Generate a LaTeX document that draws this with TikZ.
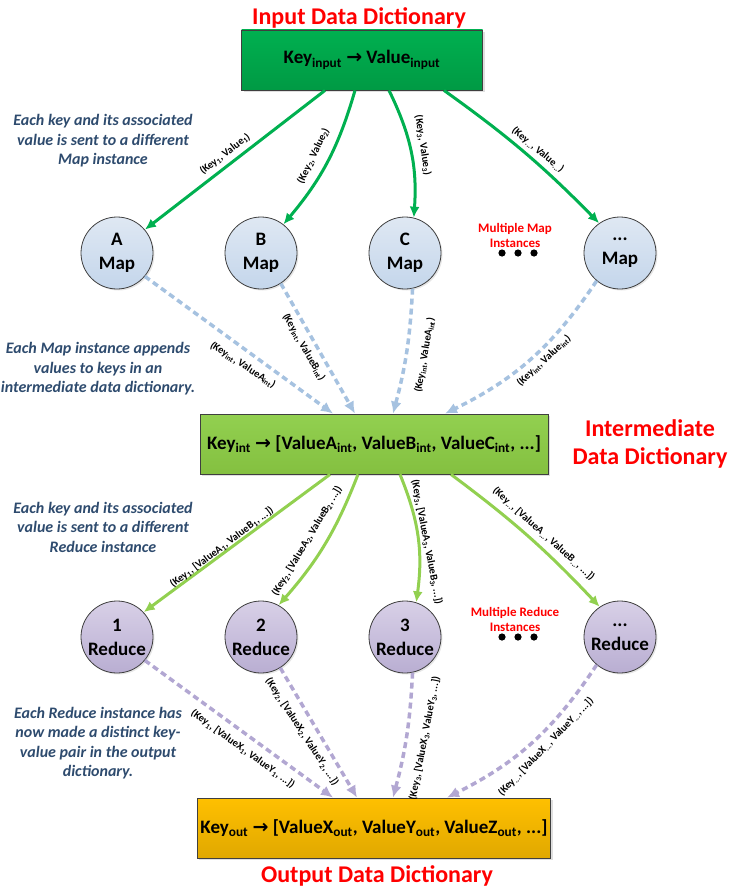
\documentclass[tikz,border=0pt]{standalone}
\usepackage{fontspec}
\setmainfont{Carlito}
\newfontfamily\arrowfont{DejaVu Sans}
\usepackage{tikz}
\usetikzlibrary{arrows.meta}
\usetikzlibrary{shadows}

\definecolor{ingreen}{HTML}{00B050}
\definecolor{ingreendark}{HTML}{009A44}
\definecolor{intgreen}{HTML}{92D050}
\definecolor{intgreendark}{HTML}{84C040}
\definecolor{outgold}{HTML}{FFC000}
\definecolor{outgolddark}{HTML}{E0A800}
\definecolor{mapfill}{HTML}{DFE8F3}
\definecolor{mapfilldark}{HTML}{C4D6EB}
\definecolor{redfill}{HTML}{D8D0E7}
\definecolor{redfilldark}{HTML}{B9AED2}
\definecolor{mapdash}{HTML}{A6C2E0}
\definecolor{reddash}{HTML}{B2A7D2}
\definecolor{notetext}{HTML}{2E4B6E}
\definecolor{edge}{HTML}{3F3F3F}

\newcommand{\ix}[1]{\textsubscript{#1}}
\newcommand{\goes}{{\arrowfont →}}

\tikzset{
    dict/.style={draw=edge, line width=0.8pt, minimum width=348pt, minimum height=60pt,
        font=\fontsize{19}{22}\selectfont\bfseries,
        drop shadow={shadow xshift=2pt, shadow yshift=-2pt, opacity=0.25}},
    inst/.style={circle, draw=edge, line width=0.8pt, minimum size=72pt, inner sep=0pt,
        align=center, font=\fontsize{19}{24}\selectfont\bfseries,
        drop shadow={shadow xshift=1.5pt, shadow yshift=-1.5pt, opacity=0.2}},
    heading/.style={text=red, align=center, font=\fontsize{24}{28}\selectfont\bfseries},
    note/.style={text=notetext, align=center, font=\fontsize{16}{19.5}\selectfont\bfseries\itshape},
    many/.style={text=red, align=center, inner sep=0pt, font=\fontsize{13}{15}\selectfont\bfseries},
    lbl/.style={inner sep=1pt, font=\fontsize{10.5}{12}\selectfont\bfseries},
    tomap/.style={line width=3pt, draw=ingreen, -{Latex[length=11pt,width=10pt]}},
    fromap/.style={line width=3.5pt, draw=mapdash, dash pattern=on 6pt off 4pt, -{Latex[length=12pt,width=11pt]}},
    toreduce/.style={line width=3pt, draw=intgreen, -{Latex[length=11pt,width=10pt]}},
    fromreduce/.style={line width=3.5pt, draw=reddash, dash pattern=on 6pt off 4pt, -{Latex[length=12pt,width=11pt]}}
}

\begin{document}
\begin{tikzpicture}[x=1pt, y=1pt]
    \useasboundingbox (0, 0) rectangle (729, -891);

    \node[heading] (intitle) at (359, -18) {Input Data Dictionary};
    \node[dict, minimum width=241pt, top color=ingreen, bottom color=ingreendark] (input) at (362, -60)
        {Key\ix{input} \goes{} Value\ix{input}};

    \node[inst, top color=mapfill, bottom color=mapfilldark] (mapA) at (117, -253) {A\\Map};
    \node[inst, top color=mapfill, bottom color=mapfilldark] (mapB) at (261, -253) {B\\Map};
    \node[inst, top color=mapfill, bottom color=mapfilldark] (mapC) at (405, -253) {C\\Map};
    \node[inst, top color=mapfill, bottom color=mapfilldark] (mapN) at (620, -253) {...\\Map};
    \node[many] (mapmany) at (515, -235) {Multiple Map\\Instances};
    \foreach \x in {502, 518, 534}
        \fill (\x, -253) circle (3.6);

    \node[dict, top color=intgreen, bottom color=intgreendark] (inter) at (374, -444)
        {Key\ix{int} \goes{} [ValueA\ix{int}, ValueB\ix{int}, ValueC\ix{int}, ...]};
    \node[heading] (inttitle) at (650, -444) {Intermediate\\Data Dictionary};

    \node[inst, top color=redfill, bottom color=redfilldark] (red1) at (117, -637) {1\\Reduce};
    \node[inst, top color=redfill, bottom color=redfilldark] (red2) at (261, -637) {2\\Reduce};
    \node[inst, top color=redfill, bottom color=redfilldark] (red3) at (405, -637) {3\\Reduce};
    \node[inst, top color=redfill, bottom color=redfilldark] (redN) at (620, -637) {...\\Reduce};
    \node[many] (redmany) at (515, -619) {Multiple Reduce\\Instances};
    \foreach \x in {502, 518, 534}
        \fill (\x, -637) circle (3.6);

    \node[dict, top color=outgold, bottom color=outgolddark] (output) at (374, -828)
        {Key\ix{out} \goes{} [ValueX\ix{out}, ValueY\ix{out}, ValueZ\ix{out}, ...]};
    \node[heading] (outtitle) at (377, -876) {Output Data Dictionary};

    \node[note] (notemap) at (103, -141) {Each key and its associated\\value is sent to a different\\Map instance};
    \node[note] (noteint) at (98, -369) {Each Map instance appends\\values to keys in an\\intermediate data dictionary.};
    \node[note] (notered) at (103, -527) {Each key and its associated\\value is sent to a different\\Reduce instance};
    \node[note] (noteout) at (98, -743) {Each Reduce instance has\\now made a distinct key-\\value pair in the output\\dictionary.};

    \draw[tomap] ([xshift=-37pt]input.south) -- node[lbl, xshift=-10pt, yshift=6pt, rotate=37.6] {(Key\ix{1}, Value\ix{1})} (mapA.40);
    \draw[tomap] ([xshift=-7pt]input.south) to[bend left=12] node[lbl, xshift=-14pt, yshift=6pt, rotate=64] {(Key\ix{2}, Value\ix{2})} (mapB.52);
    \draw[tomap] ([xshift=27pt]input.south) to[bend left=15] node[lbl, xshift=12pt, yshift=7pt, rotate=-81] {(Key\ix{3}, Value\ix{3})} (mapC.76);
    \draw[tomap] ([xshift=82pt]input.south) to[bend left=5] node[lbl, xshift=13pt, yshift=3pt, rotate=-40] {(Key\ix{...}, Value\ix{...})} (mapN.125);

    \draw[fromap] (mapA.-40) -- node[lbl, xshift=4pt, yshift=-20pt, rotate=-33] {(Key\ix{int}, ValueA\ix{int})} ([xshift=-41pt]inter.north);
    \draw[fromap] (mapB.-57) -- node[lbl, xshift=-14pt, yshift=1.5pt, rotate=-60] {(Key\ix{int}, ValueB\ix{int})} ([xshift=-19pt]inter.north);
    \draw[fromap] (mapC.-78) to[bend left=6] node[lbl, xshift=18pt, yshift=-3.5pt, rotate=80] {(Key\ix{int}, ValueA\ix{int})} ([xshift=19pt]inter.north);
    \draw[fromap] (mapN.-130) to[bend left=15] node[lbl, xshift=13pt, yshift=-2pt, rotate=43] {(Key\ix{int}, Value\ix{int})} ([xshift=71pt]inter.north);

    \draw[toreduce] ([xshift=-44pt]inter.south) -- node[lbl, xshift=-15pt, yshift=-4pt, rotate=37] {(Key\ix{1}, [ValueA\ix{1}, ValueB\ix{1}, ...])} (red1.43);
    \draw[toreduce] ([xshift=-16pt]inter.south) to[bend left=10] node[lbl, xshift=-18pt, yshift=3pt, rotate=59] {(Key\ix{2}, [ValueA\ix{2}, ValueB\ix{2}, ...])} (red2.61);
    \draw[toreduce] ([xshift=26pt]inter.south) to[bend left=15] node[lbl, xshift=9pt, yshift=-5pt, rotate=-79] {(Key\ix{3}, [ValueA\ix{3}, ValueB\ix{3}, ...])} (red3.72);
    \draw[toreduce] ([xshift=77pt]inter.south) to[bend left=5] node[lbl, xshift=15pt, yshift=3pt, rotate=-42] {(Key\ix{...}, [ValueA\ix{...}, ValueB\ix{...}, ...])} (redN.124);

    \draw[fromreduce] (red1.-40) -- node[lbl, xshift=4pt, yshift=-20pt, rotate=-36] {(Key\ix{1}, [ValueX\ix{1}, ValueY\ix{1}, ...])} ([xshift=-41pt]output.north);
    \draw[fromreduce] (red2.-58) -- node[lbl, xshift=-16.5pt, yshift=1pt, rotate=-57] {(Key\ix{2}, [ValueX\ix{2}, ValueY\ix{2}, ...])} ([xshift=-17pt]output.north);
    \draw[fromreduce] (red3.-78) to[bend left=6] node[lbl, xshift=18pt, yshift=-2.5pt, rotate=79] {(Key\ix{3}, [ValueX\ix{3}, ValueY\ix{3}, ...])} ([xshift=19pt]output.north);
    \draw[fromreduce] (redN.-130) to[bend left=15] node[lbl, xshift=14pt, yshift=-4pt, rotate=46] {(Key\ix{...}, [ValueX\ix{...}, ValueY\ix{...}, ...])} ([xshift=73pt]output.north);
\end{tikzpicture}
\end{document}
